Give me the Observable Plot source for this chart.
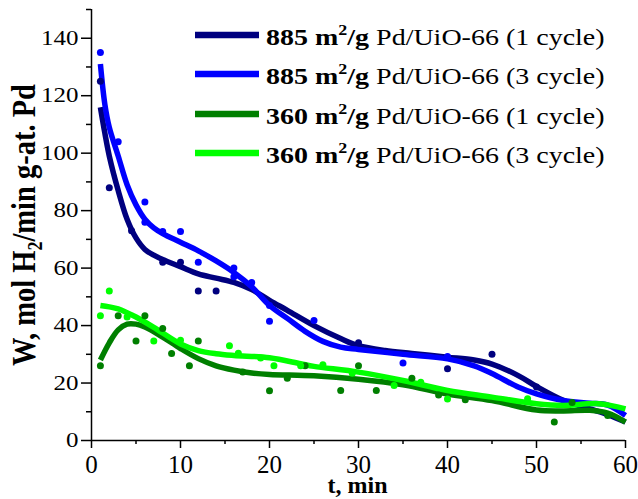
<!DOCTYPE html>
<html>
<head>
<meta charset="utf-8">
<script src="https://cdn.jsdelivr.net/npm/d3@7"></script>
<script src="https://cdn.jsdelivr.net/npm/@observablehq/plot@0.6"></script>
<style>
  html, body { margin: 0; padding: 0; background: #fff; }
  #chart { position: relative; width: 638px; height: 499px; }
</style>
</head>
<body>
<div id="chart"></div>
<script>
// ---- series labels & colours ----
const seriesNames = [
  ["885", "Pd/UiO-66 (1 cycle)"],
  ["885", "Pd/UiO-66 (3 cycle)"],
  ["360", "Pd/UiO-66 (1 cycle)"],
  ["360", "Pd/UiO-66 (3 cycle)"]
];
const seriesColors = ["#00007f", "#0000ff", "#007f00", "#00ff00"];

// ---- measured points ----
const navyPtT = [1, 2, 4.5, 8, 10, 12, 14, 30, 40, 45, 50];
const navyPtW = [125, 88, 73, 62, 62, 52, 52, 34, 25, 30, 18.6];

const bluePtT = [1, 3, 6, 6, 8, 10, 12, 16, 16, 18, 20, 20, 25, 35, 40];
const bluePtW = [135, 104, 83, 76, 72.7, 72.7, 62, 60, 57, 55, 47, 41.5, 41.8, 27, 29.2];

const greenPtT = [1, 3, 5, 6, 8, 9, 11, 12, 17, 20, 22, 24, 28, 30, 32, 36, 39, 42, 52, 54, 58];
const greenPtW = [26, 43.4, 34.6, 43.4, 39, 30.3, 26, 34.6, 23.8, 17.3, 21.7, 26, 17.4, 26, 17.4, 21.7, 15.8, 14.2, 6.4, 13.2, 8.7];

const limePtT = [1, 2, 4, 7, 10, 15.5, 16.5, 19, 20.5, 23.5, 26, 29.3, 34, 37, 40, 49];
const limePtW = [43.4, 52, 43, 34.6, 34.9, 33, 30.4, 28.7, 26, 26, 26.4, 23.4, 19.1, 20.3, 14.4, 14.5];

// ---- fitted curves ----
const navyCurveT = [1, 1.5, 2, 3, 4, 5, 6, 7, 8, 10, 12, 14, 16, 18, 20, 22, 25, 28, 30, 33, 36, 40, 43, 45, 48, 50, 53, 56, 58, 60];
const navyCurveW = [116, 107, 99, 87, 77, 70.5, 66.5, 64.5, 63, 60.5, 58, 56.5, 55, 52.5, 48.8, 45.3, 40, 35.5, 33, 31.3, 30.3, 29, 28, 26.6, 22.5, 18.8, 14, 11, 9, 6.4];

const blueCurveT = [1, 1.5, 2, 3, 4, 5, 6, 7, 8, 10, 12, 14, 16, 18, 20, 22, 24, 26, 28, 30, 35, 40, 43, 45, 48, 50, 53, 56, 58, 60];
const blueCurveW = [131, 117, 109, 99, 89, 82, 77, 74, 72, 69, 66, 62.5, 58.5, 53.5, 47, 42.5, 38, 34.5, 32.5, 31.7, 30, 28.4, 26, 23.3, 18.5, 16.2, 13.9, 13, 12.3, 8.7];

const greenCurveT = [1, 2, 3, 4, 5, 6, 8, 10, 12, 14, 16, 18, 20, 25, 30, 35, 40, 45, 50, 53, 56, 58, 60];
const greenCurveW = [28, 34, 38.5, 40.5, 40.5, 39.5, 36, 32, 28.5, 26, 24.5, 23.5, 23, 22.5, 21.3, 19.4, 16.2, 13.9, 10.6, 10.3, 10.5, 9.5, 6.4];

const limeCurveT = [1, 2, 3, 4, 5, 7, 10, 12, 14, 16, 20, 23.5, 25, 30, 35, 40, 45, 50, 53, 57, 60];
const limeCurveW = [47, 46.5, 45.8, 44.5, 43, 39.4, 33.6, 31.3, 30.2, 29.6, 28.8, 26.7, 25.8, 23.8, 20.9, 17.4, 15.1, 12.8, 12.2, 12.8, 11];

// ---- ticks ----
const xMajor = [0, 10, 20, 30, 40, 50, 60];
const xMinor = [5, 15, 25, 35, 45, 55];
const yMajor = [0, 20, 40, 60, 80, 100, 120, 140];
const yMinor = [10, 30, 50, 70, 90, 110, 130, 150];

// ---- build tables ----
const toRows = (T, W, s) => T.map((t, i) => ({t, w: W[i], s}));
const curves = [
  toRows(navyCurveT, navyCurveW, 0),
  toRows(blueCurveT, blueCurveW, 1),
  toRows(greenCurveT, greenCurveW, 2),
  toRows(limeCurveT, limeCurveW, 3)
];
const points = [
  toRows(navyPtT, navyPtW, 0),
  toRows(bluePtT, bluePtW, 1),
  toRows(greenPtT, greenPtW, 2),
  toRows(limePtT, limePtW, 3)
];

const marks = [
  Plot.axisX(xMajor, {tickSize: 8, tickPadding: 7, label: null, strokeWidth: 1.5, fontSize: 25}),
  Plot.axisX(xMinor, {tickSize: 4, tickFormat: () => "", label: null, strokeWidth: 1.5}),
  Plot.axisY(yMajor, {tickSize: 10, tickPadding: 3, label: null, strokeWidth: 1.5, fontSize: 25}),
  Plot.axisY(yMinor, {tickSize: 5, tickFormat: () => "", label: null, strokeWidth: 1.5}),
  Plot.ruleX([0], {stroke: "black", strokeWidth: 1.5}),
  Plot.ruleY([0], {stroke: "black", strokeWidth: 1.5})
];
curves.forEach((c, i) => marks.push(
  Plot.line(c, {x: "t", y: "w", stroke: seriesColors[i], strokeWidth: 5.5, curve: "catmull-rom", strokeLinecap: "butt"})
));
points.forEach((p, i) => marks.push(
  Plot.dot(p, {x: "t", y: "w", fill: seriesColors[i], r: 3.5})
));

const ff = "'Liberation Serif', 'Times New Roman', serif";
const plot = Plot.plot({
  width: 638,
  height: 499,
  marginLeft: 91,
  marginRight: 13,
  marginTop: 9,
  marginBottom: 59,
  style: {fontFamily: ff, fontSize: "25px", background: "white", color: "black", overflow: "visible"},
  x: {domain: [0, 60], label: null},
  y: {domain: [0, 150], label: null},
  marks
});
document.getElementById("chart").appendChild(plot);

const svg = d3.select(plot);
// y tick labels are slightly squat in the reference
svg.selectAll('g[aria-label="y-axis tick label"] text').each(function() {
  const tr = this.getAttribute("transform") || "";
  this.setAttribute("transform", tr + " scale(1,0.83)");
});

// axis titles
svg.append("text")
  .attr("transform", "translate(357.5,493)")
  .attr("text-anchor", "middle")
  .attr("font-family", ff).attr("font-weight", "bold").attr("font-size", 24)
  .attr("fill", "black")
  .text("t, min");

const yl = svg.append("text")
  .attr("transform", "translate(35,225) scale(1.15,1) rotate(-90)")
  .attr("text-anchor", "middle")
  .attr("font-family", ff).attr("font-weight", "bold").attr("font-size", 28.5)
  .attr("fill", "black");
yl.append("tspan").text("W, mol H");
yl.append("tspan").attr("font-size", 18).attr("dy", 6).text("2");
yl.append("tspan").attr("dy", -6).text("/min g-at. Pd");

// legend
const legend = svg.append("g").attr("aria-label", "legend");
const rowY = [35, 74, 114, 153];
seriesNames.forEach((n, i) => {
  legend.append("line")
    .attr("x1", 195).attr("x2", 259)
    .attr("y1", rowY[i]).attr("y2", rowY[i])
    .attr("stroke", seriesColors[i]).attr("stroke-width", 6.5);
  const t = legend.append("text")
    .attr("transform", `translate(266,${rowY[i] + 10}) scale(1,0.82)`)
    .attr("text-anchor", "start")
    .attr("font-family", ff).attr("font-size", 28).attr("fill", "black");
  t.append("tspan").attr("font-weight", "bold").text(n[0] + " m");
  t.append("tspan").attr("font-weight", "bold").attr("font-size", 18).attr("dy", -12).text("2");
  t.append("tspan").attr("font-weight", "bold").attr("dy", 12).text("/g");
  t.append("tspan").text(" " + n[1]);
});
</script>
</body>
</html>
